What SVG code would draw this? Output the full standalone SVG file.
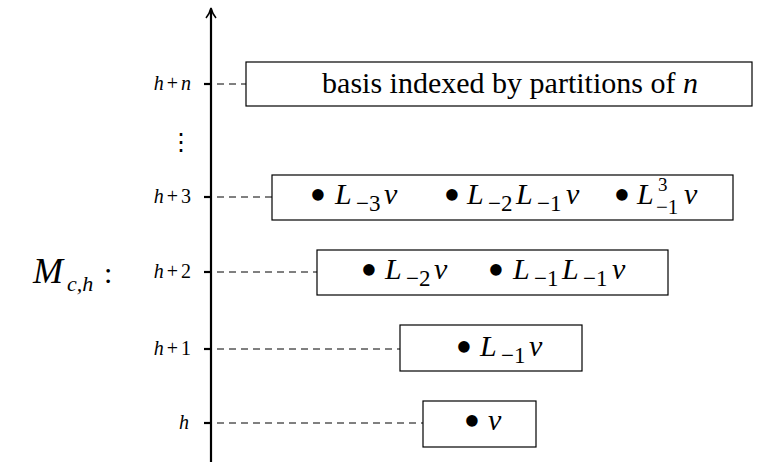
<svg xmlns="http://www.w3.org/2000/svg" width="766" height="462" viewBox="0 0 766 462">
<style>
.box{fill:#fff;stroke:#000;stroke-width:1.2}
.dash{stroke:#000;stroke-width:1;stroke-dasharray:7,5;fill:none}
.tick{stroke:#000;stroke-width:2.2}
.t{font-family:'Liberation Serif','DejaVu Serif',serif;fill:#000}
.m{font-size:30px}
.i{font-style:italic}
.sb{font-size:23px}
.bu{font-size:48px}
</style>
<rect width="766" height="462" fill="#fff"/>
<g id="axis">
<line x1="211" y1="462" x2="211" y2="10" stroke="#000" stroke-width="2.2"/>
<path d="M206 18 Q209.5 14 211 8 Q212.5 14 216 18" fill="none" stroke="#000" stroke-width="1.6"/>
<line class="tick" x1="204" y1="84" x2="211" y2="84"/>
<line class="tick" x1="204" y1="197" x2="211" y2="197"/>
<line class="tick" x1="204" y1="272" x2="211" y2="272"/>
<line class="tick" x1="204" y1="349" x2="211" y2="349"/>
<line class="tick" x1="204" y1="423" x2="211" y2="423"/>
</g>
<g id="labels" class="t" font-size="20">
<text x="194" y="90" text-anchor="end" letter-spacing="3"><tspan font-style="italic">h</tspan>+<tspan font-style="italic">n</tspan></text>
<text x="194" y="203" text-anchor="end" letter-spacing="3"><tspan font-style="italic">h</tspan>+3</text>
<text x="194" y="278" text-anchor="end" letter-spacing="3"><tspan font-style="italic">h</tspan>+2</text>
<text x="194" y="355" text-anchor="end" letter-spacing="3"><tspan font-style="italic">h</tspan>+1</text>
<text x="179" y="429" font-style="italic">h</text>
<text x="181" y="150" text-anchor="middle" font-family="'DejaVu Serif', serif" font-size="24">⋮</text>
<text x="33" y="283" font-size="36" font-style="italic">M</text>
<text x="67" y="291" font-size="22" font-style="italic">c,h</text>
<text x="104" y="283" font-size="30">:</text>
</g>
<g id="connectors">
<line class="dash" x1="217" y1="84" x2="246" y2="84"/>
<line class="dash" x1="217" y1="197" x2="272" y2="197"/>
<line class="dash" x1="217" y1="272" x2="317" y2="272"/>
<line class="dash" x1="217" y1="349" x2="400" y2="349"/>
<line class="dash" x1="217" y1="423" x2="423" y2="423"/>
</g>
<g id="node-hn" class="t m">
<rect class="box" x="246" y="62" width="506" height="44"/>
<text class="t m" x="510" y="93" text-anchor="middle">basis indexed by partitions of <tspan class="i">n</tspan></text>
</g>
<g id="node-h3">
<rect class="box" x="272" y="175" width="461" height="45"/>
<text class="t bu" x="318" y="211" text-anchor="middle">•</text>
<text class="t m i" x="335" y="204">L</text>
<text class="t sb" x="356" y="211">−3</text>
<text class="t m i" x="384" y="204">v</text>
<text class="t bu" x="452" y="211" text-anchor="middle">•</text>
<text class="t m i" x="467" y="204">L</text>
<text class="t sb" x="488" y="211">−2</text>
<text class="t m i" x="516" y="204">L</text>
<text class="t sb" x="537" y="211">−1</text>
<text class="t m i" x="566" y="204">v</text>
<text class="t bu" x="622" y="211" text-anchor="middle">•</text>
<text class="t m i" x="637" y="204">L</text>
<text class="t" font-size="19" x="658" y="191">3</text>
<text class="t" font-size="21" x="656" y="214">−1</text>
<text class="t m i" x="684" y="204">v</text>
</g>
<g id="node-h2">
<rect class="box" x="317" y="250" width="351" height="45"/>
<text class="t bu" x="369" y="286" text-anchor="middle">•</text>
<text class="t m i" x="385" y="279">L</text>
<text class="t sb" x="406" y="286">−2</text>
<text class="t m i" x="434" y="279">v</text>
<text class="t bu" x="496" y="286" text-anchor="middle">•</text>
<text class="t m i" x="513" y="279">L</text>
<text class="t sb" x="534" y="286">−1</text>
<text class="t m i" x="562" y="279">L</text>
<text class="t sb" x="583" y="286">−1</text>
<text class="t m i" x="612" y="279">v</text>
</g>
<g id="node-h1">
<rect class="box" x="400" y="325" width="182" height="46"/>
<text class="t bu" x="464" y="363" text-anchor="middle">•</text>
<text class="t m i" x="480" y="356">L</text>
<text class="t sb" x="501" y="363">−1</text>
<text class="t m i" x="529" y="356">v</text>
</g>
<g id="node-h">
<rect class="box" x="423" y="401" width="113" height="46"/>
<text class="t bu" x="472" y="437" text-anchor="middle">•</text>
<text class="t m i" x="488" y="430">v</text>
</g>
</svg>
